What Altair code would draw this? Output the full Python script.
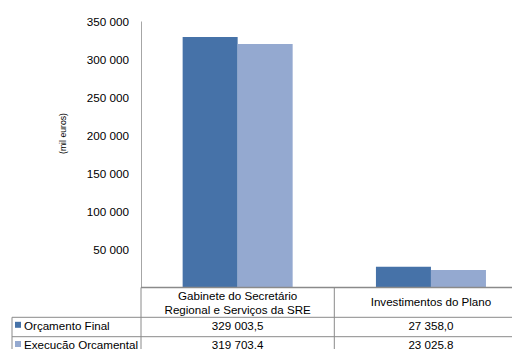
import altair as alt
import pandas as pd

# ---- data ----
categories = ["Gabinete do Secretário Regional e Serviços da SRE", "Investimentos do Plano"]
category_headers = ["Gabinete do Secretário\nRegional e Serviços da SRE", "Investimentos do Plano"]
series_names = ["Orçamento Final", "Execução Orçamental"]
orcamento_final = [329003.5, 27358.0]
execucao_orcamental = [319703.4, 23025.8]
y_tick_values = [50000, 100000, 150000, 200000, 250000, 300000, 350000]
series_colors = ["#4672a8", "#94a9d0"]

FONT = "Liberation Sans"


def pt_format(v):
    return f"{v:,.1f}".replace(",", " ").replace(".", ",")


rows = []
for s, vals in zip(series_names, [orcamento_final, execucao_orcamental]):
    for c, v in zip(categories, vals):
        rows.append({"cat": c, "series": s, "value": v, "label": pt_format(v)})
df = pd.DataFrame(rows)

hdr = pd.DataFrame({"cat": categories, "header": category_headers})

W = 371
H = 266.5
x_scale = alt.Scale(domain=categories, range=[0, 386.6], paddingInner=0, paddingOuter=0)
color_scale = alt.Scale(domain=series_names, range=series_colors)

bars = alt.Chart(df).mark_bar(stroke=None).encode(
    x=alt.X("cat:N", scale=x_scale, axis=None, sort=categories),
    xOffset=alt.XOffset("series:N", sort=series_names,
                        scale=alt.Scale(domain=series_names, paddingInner=0, paddingOuter=0.757)),
    y=alt.Y("value:Q", scale=alt.Scale(domain=[0, 350000], nice=False),
            axis=alt.Axis(values=y_tick_values, grid=False, ticks=False,
                          domainColor="#a6a6a6", domainWidth=1,
                          labelExpr="format(datum.value/1000,'d') + ' 000'",
                          labelFont=FONT, labelFontSize=11.7, labelColor="#000000",
                          labelPadding=12.5,
                          title="(mil euros)", titleFont=FONT, titleFontSize=8.7,
                          titleFontWeight="normal", titleColor="#000000",
                          titleAngle=270, titleX=-79, titleY=112,
                          titleAlign="center", titleBaseline="middle")),
    color=alt.Color("series:N", scale=color_scale, legend=None),
)

one = alt.Data(values=[{}])
LC = "#8a8a8a"


def hrule(y, x0, x1, w=1.0):
    return alt.Chart(one).mark_rule(color=LC, strokeWidth=w).encode(
        x=alt.value(x0), x2=alt.value(x1), y=alt.value(y))


def vrule(x, y0, y1):
    return alt.Chart(one).mark_rule(color=LC, strokeWidth=1).encode(
        x=alt.value(x), y=alt.value(y0), y2=alt.value(y1))


Y_HEAD_TOP = 266.5
Y_HEAD_BOT = 296.3
Y_ROW1_BOT = 315.7
Y_END = 330
X_LEG = -129

lines = [
    hrule(Y_HEAD_TOP, 0, W + 10, 1.5),
    hrule(Y_HEAD_BOT, X_LEG, W + 10),
    hrule(Y_ROW1_BOT, X_LEG, W + 10),
    vrule(X_LEG, Y_HEAD_BOT, Y_END),
    vrule(0, Y_HEAD_TOP, Y_END),
    vrule(193.3, Y_HEAD_TOP, Y_END),
]

header_base = alt.Chart(hdr)
header_layers = [
    header_base.transform_filter(alt.datum.cat == categories[0]).mark_text(
        font=FONT, fontSize=11.6, color="#000000", lineBreak="\n", lineHeight=14,
        align="center", baseline="middle").encode(
        x=alt.X("cat:N", scale=x_scale, axis=None, sort=categories),
        y=alt.value(275.6), text="header:N"),
    header_base.transform_filter(alt.datum.cat == categories[1]).mark_text(
        font=FONT, fontSize=11.6, color="#000000",
        align="center", baseline="middle").encode(
        x=alt.X("cat:N", scale=x_scale, axis=None, sort=categories),
        y=alt.value(281.6), text="header:N"),
]

row_layers = []
for s, ty in zip(series_names, [306.0, 325.2]):
    sub = alt.Chart(df).transform_filter(alt.datum.series == s)
    row_layers.append(sub.mark_text(font=FONT, fontSize=11.6, color="#000000",
                                    align="center", baseline="middle").encode(
        x=alt.X("cat:N", scale=x_scale, axis=None, sort=categories),
        y=alt.value(ty),
        text="label:N",
    ))
    leg = alt.Chart(pd.DataFrame({"series": [s]}))
    row_layers.append(leg.mark_square(size=36, opacity=1, filled=True).encode(
        x=alt.value(-123), y=alt.value(ty - 2.2),
        color=alt.Color("series:N", scale=color_scale, legend=None),
    ))
    row_layers.append(leg.mark_text(font=FONT, fontSize=11.6, color="#000000",
                                    align="left", baseline="middle").encode(
        x=alt.value(-117), y=alt.value(ty), text="series:N",
    ))

chart = alt.layer(bars, *lines, *header_layers, *row_layers).properties(
    width=W, height=H,
    autosize=alt.AutoSizeParams(type="none"),
    padding={"left": 133, "top": 13, "right": 0, "bottom": 61.5},
    background="white",
).configure_view(stroke=None)

chart.save("out.html", embed_options={"renderer": "svg", "actions": False})
